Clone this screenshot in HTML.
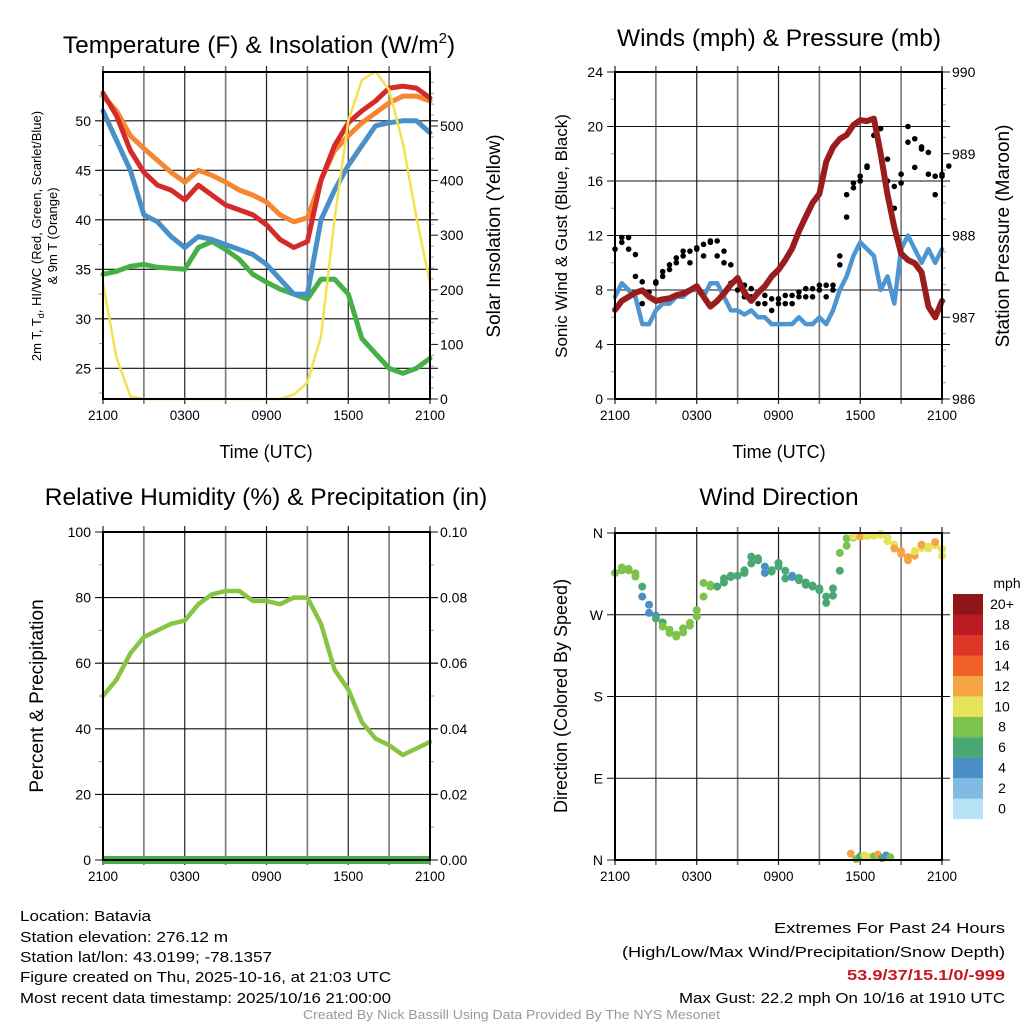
<!DOCTYPE html>
<html><head><meta charset="utf-8"><style>
html,body{margin:0;padding:0;background:#fff}
svg{display:block;font-family:"Liberation Sans",sans-serif}
</style></head><body>
<svg id="s" width="1024" height="1024" viewBox="0 0 1024 1024" xmlns="http://www.w3.org/2000/svg">
<g id="g"></g>
<g font-size="15" fill="#000">
<text x="20" y="921" textLength="131" lengthAdjust="spacingAndGlyphs">Location: Batavia</text>
<text x="20" y="942" textLength="208" lengthAdjust="spacingAndGlyphs">Station elevation: 276.12 m</text>
<text x="20" y="962" textLength="252" lengthAdjust="spacingAndGlyphs">Station lat/lon: 43.0199; -78.1357</text>
<text x="20" y="982" textLength="371" lengthAdjust="spacingAndGlyphs">Figure created on Thu, 2025-10-16, at 21:03 UTC</text>
<text x="20" y="1003" textLength="371" lengthAdjust="spacingAndGlyphs">Most recent data timestamp: 2025/10/16 21:00:00</text>
<text x="774" y="933" textLength="231" lengthAdjust="spacingAndGlyphs">Extremes For Past 24 Hours</text>
<text x="622" y="957" textLength="383" lengthAdjust="spacingAndGlyphs">(High/Low/Max Wind/Precipitation/Snow Depth)</text>
<text x="847" y="980" textLength="158" lengthAdjust="spacingAndGlyphs" fill="#c8181e" font-weight="bold">53.9/37/15.1/0/-999</text>
<text x="679" y="1003" textLength="326" lengthAdjust="spacingAndGlyphs">Max Gust: 22.2 mph On 10/16 at 1910 UTC</text>
<text x="303" y="1019" textLength="417" lengthAdjust="spacingAndGlyphs" font-size="12.5" fill="#999">Created By Nick Bassill Using Data Provided By The NYS Mesonet</text>
</g>
</svg>
<script>
// ---- data (hourly from 2100 UTC) ----
const hours = [0,1,2,3,4,5,6,7,8,9,10,11,12,13,14,15,16,17,18,19,20,21,22,23,24];
const tempRed = [52.8,50.5,47,44.8,43.5,43,42,43.5,42.5,41.5,41,40.5,39.5,38,37.2,37.8,44,47.5,49.8,51,52,53.3,53.5,53.3,52.3];
const tempOrange = [52.5,51,48.5,47.2,46,44.8,43.8,45,44.5,43.8,43,42.5,41.8,40.5,39.8,40.2,44,47,48.5,49.8,50.8,51.8,52.5,52.5,52];
const tempBlue = [51,48,45,40.5,39.8,38.3,37.2,38.3,38,37.5,37,36.5,35.5,34,32.5,32.5,40,43,45.5,47.5,49.5,49.8,50,50,48.8];
const tempGreen = [34.5,34.8,35.3,35.5,35.2,35.1,35,37.2,37.8,37,36,34.5,33.7,33,32.5,32,34,34,32.5,28,26.5,25,24.5,25,26];
const insolation = [212,75,5,0,0,0,0,0,0,0,0,0,0,0,8,30,115,330,510,584,600,566,469,333,212];
const humidity = [50,55,63,68,70,72,73,78,81,82,82,79,79,78,80,80,72,58,52,42,37,35,32,34,36];
const precip = [0,0,0,0,0,0,0,0,0,0,0,0,0,0,0,0,0,0,0,0,0,0,0,0,0];
// half-hourly
const halfHours = [0,0.5,1,1.5,2,2.5,3,3.5,4,4.5,5,5.5,6,6.5,7,7.5,8,8.5,9,9.5,10,10.5,11,11.5,12,12.5,13,13.5,14,14.5,15,15.5,16,16.5,17,17.5,18,18.5,19,19.5,20,20.5,21,21.5,22,22.5,23,23.5,24];
const windSpeed = [7.5,8.5,8,7.5,5.5,5.5,6.5,7,7,7.5,7.5,8,8,7.5,8.5,8.5,7.5,6.5,6.5,6.2,6.5,6,6,5.5,5.5,5.5,5.5,6,5.5,5.5,6,5.5,6.5,8,9,10.5,11.5,11,10.5,8,9,7,11,12,11,10,11,10,11];
const windGust = [11,11.5,11,9,7,7.5,8.5,9,9.5,10,10.5,10,11,10.5,11.5,10.5,10,8.5,8,7.5,7.5,7,7,6.5,7,7,7,7.5,7.5,7.5,8,7.5,8,10.5,15,15.5,16,17,20.5,18,16,14,16.5,20,17,18.5,16.5,15,16.5];
const pressure = [987.09,987.2,987.25,987.3,987.33,987.25,987.2,987.22,987.23,987.27,987.29,987.33,987.38,987.25,987.13,987.2,987.29,987.4,987.48,987.3,987.2,987.3,987.38,987.5,987.58,987.7,987.84,988.05,988.23,988.4,988.51,988.9,989.08,989.18,989.23,989.35,989.41,989.4,989.43,989.0,988.5,988.1,987.78,987.7,987.66,987.55,987.13,987.0,987.2];
const windDir = [316,322,319,312,290,272,266,257,250,246,255,261,275,305,301,301,310,313,313,319,334,330,316,319,327,310,313,308,303,301,297,283,299,338,354,356,356,357,357,359,351,343,337,330,340,347,343,350,335];
const dirSpeed = [8.5,8.5,9,8,5,4.5,6.5,8,8,8.5,8.5,8.5,8.5,9,8.5,7,7,6.5,6.5,7,7,6,5,7,6.5,6.5,5,7,6.5,7,6,7,7,8,9,10,12,11,10,11,10,12,12,13,11,12,10,13,10];
const wrapHours = [17.3,17.7,18,18.3,18.6,19,19.3,19.6,19.9,20.2];
const wrapDir = [7,1,4,5,3,4,6,2,5,3];
const wrapSpeed = [12,8,7,10,10,8,12,7,5,9];
const tempTicks = [25,30,35,40,45,50];
const insTicks = [0,100,200,300,400,500];
const windTicks = [0,4,8,12,16,20,24];
const presTicks = [986,987,988,989,990];
const rhTicks = [0,20,40,60,80,100];
const prTicks = ['0.00','0.02','0.04','0.06','0.08','0.10'];
const dirTicks = ['N','E','S','W','N'];
const timeLabels = ['2100','0300','0900','1500','2100'];
const speedBins = ['0','2','4','6','8','10','12','14','16','18','20+'];
const binColors = ['#b8e2f5','#80bbe3','#4a8fc6','#4aa874','#7dc24a','#e6e25a','#f6a443','#f06128','#dd3527','#bb1c22','#8e1518'];

const NS='http://www.w3.org/2000/svg';
const G=document.getElementById('g');
function el(tag,attrs,parent,txt){const e=document.createElementNS(NS,tag);for(const k in attrs)e.setAttribute(k,attrs[k]);if(txt!==undefined)e.textContent=txt;(parent||G).appendChild(e);return e;}

function panel(o){
  const g=el('g',{});
  
  
  const X=h=>o.x0+(o.x1-o.x0)*h/24;
  for(let i=0;i<=8;i++){const x=X(i*3);
    const l=el('line',{x1:x,x2:x,y1:o.y0-6,y2:o.y1+5,stroke:i%2? '#777':'#222','stroke-width':i%2?1.6:1.2},g);
    }
  timeLabels.forEach((t,i)=>{const tx=el('text',{x:X(i*6),y:o.y1+21,'font-size':13.5,'text-anchor':'middle'},g,t);
    });
  return {g,X};
}
function hgrid(g,o,Y,ticks,labels,minor){
  ticks.forEach((v,i)=>{const y=Y(v);
    el('line',{x1:o.x0-8,x2:o.x1+8,y1:y,y2:y,stroke:'#111','stroke-width':1.1},g);
    const t=el('text',{x:o.x0-12,y:y+5,'font-size':14,'text-anchor':'end'},g,labels?labels[i]:v);
    });
  if(minor){minor.forEach(v=>{const y=Y(v);el('line',{x1:o.x0-4,x2:o.x0,y1:y,y2:y,stroke:'#999','stroke-width':1},g);});}
}
function rticks(g,o,Y,ticks,labels,minor){
  ticks.forEach((v,i)=>{const y=Y(v);
    el('line',{x1:o.x1,x2:o.x1+8,y1:y,y2:y,stroke:'#111','stroke-width':1},g);
    const t=el('text',{x:o.x1+10,y:y+5,'font-size':14},g,labels?labels[i]:v);
    });
  if(minor)minor.forEach(v=>{const y=Y(v);el('line',{x1:o.x1,x2:o.x1+4,y1:y,y2:y,stroke:'#999','stroke-width':1},g);});
}
function line(g,xs,ys,X,Y,color,w,name){
  const p=el('polyline',{points:xs.map((h,i)=>X(h).toFixed(1)+','+Y(ys[i]).toFixed(1)).join(' '),fill:'none',stroke:color,'stroke-width':w,'stroke-linejoin':'round','stroke-linecap':'round'},g);
  return p;
}
function frame(g,o){el('rect',{x:o.x0,y:o.y0,width:o.x1-o.x0,height:o.y1-o.y0,fill:'none',stroke:'#000','stroke-width':2},g);}
function title(txt,x,y,name,size){const t=el('text',{x:x,y:y,'font-size':size||24.5,'text-anchor':'middle'},G,txt);return t;}
function vlabel(txt,x,y,name,size){const t=el('text',{x:0,y:0,'font-size':size||18,'text-anchor':'middle',transform:`translate(${x},${y}) rotate(-90)`},G,txt);return t;}

// ---- Panel 1: Temperature ----
{const o={x0:103,x1:430,y0:72,y1:399,name:'temperature-panel'};
 const P=panel(o);const Y=v=>399-(v-21.9)*9.9;const Yr=v=>399-v*0.546;
 hgrid(P.g,o,Y,tempTicks,null,[22.5,27.5,32.5,37.5,42.5,47.5,52.5]);
 rticks(P.g,o,Yr,insTicks,null,[20,40,60,80,120,140,160,180,220,240,260,280,320,340,360,380,420,440,460,480,520,540,560,580]);
 line(P.g,hours,tempOrange,P.X,Y,'#f58634',5,'series-9m-temp');
 line(P.g,hours,tempGreen,P.X,Y,'#45b045',5,'series-dewpoint');
 line(P.g,hours,tempBlue,P.X,Y,'#4a90c8',5,'series-hi-wc');
 line(P.g,hours,tempRed,P.X,Y,'#d42a2a',5,'series-2m-temp');
 line(P.g,hours,insolation,P.X,Yr,'#f5e050',2.5,'series-insolation');
 frame(P.g,o);
 const t=title('Temperature (F) & Insolation (W/m',259,53,'temperature-title');
 el('tspan',{dy:-10,'font-size':15},t,'2');el('tspan',{dy:10},t,')');
 const a=el('text',{x:0,y:0,'font-size':13,'text-anchor':'middle',transform:'translate(41,236) rotate(-90)'},G,'2m T, T');
 
 el('tspan',{dy:3,'font-size':9},a,'d');el('tspan',{dy:-3},a,', HI/WC (Red, Green, Scarlet/Blue)');
 const b=el('text',{x:0,y:0,'font-size':13,'text-anchor':'middle',transform:'translate(57,236) rotate(-90)'},G,'& 9m T (Orange)');
 
 vlabel('Solar Insolation (Yellow)',500,236,'insolation-y-title',19);
 title('Time (UTC)',266,458,'time-x-title-1',18);
}
// ---- Panel 2: Winds ----
{const o={x0:615,x1:942,y0:72,y1:399,name:'winds-panel'};
 const P=panel(o);const Y=v=>399-v*13.625;const Yr=v=>399-(v-986)*81.75;
 hgrid(P.g,o,Y,windTicks,null,[2,6,10,14,18,22]);
 rticks(P.g,o,Yr,presTicks,null,[986.2,986.4,986.6,986.8,987.2,987.4,987.6,987.8,988.2,988.4,988.6,988.8,989.2,989.4,989.6,989.8]);
 line(P.g,halfHours,windSpeed,P.X,Y,'#4d96d1',4.5,'series-wind-speed');
 halfHours.forEach((h,i)=>{const c=el('circle',{cx:P.X(h),cy:Y(windGust[i]),r:2.8,fill:'#000'},P.g);
   
   const c2=el('circle',{cx:P.X(h)+6.8,cy:Y((windGust[i]+windGust[Math.min(i+1,48)])/2+0.6),r:2.8,fill:'#000'},P.g);
   });
 line(P.g,halfHours,pressure,P.X,Yr,'#9b1c1c',6,'series-pressure');
 frame(P.g,o);
 title('Winds (mph) & Pressure (mb)',779,46,'winds-title');
 vlabel('Sonic Wind & Gust (Blue, Black)',567,236,'wind-y-title',17);
 vlabel('Station Pressure (Maroon)',1009,236,'pressure-y-title',19);
 title('Time (UTC)',779,458,'time-x-title-2',18);
}
// ---- Panel 3: RH ----
{const o={x0:103,x1:430,y0:532,y1:860,name:'humidity-panel'};
 const P=panel(o);const Y=v=>860-v*3.28;const Yr=v=>860-v*3280;
 hgrid(P.g,o,Y,rhTicks,null,[10,30,50,70,90]);
 rticks(P.g,o,Yr,prTicks.map(Number),prTicks,[0.01,0.03,0.05,0.07,0.09]);
 line(P.g,hours,humidity,P.X,Y,'#88c444',4.5,'series-humidity');
 el('rect',{x:o.x0,y:856,width:o.x1-o.x0,height:8,fill:'#45b045'},P.g);
 line(P.g,hours,precip,P.X,Yr,'#2f8f2f',2,'series-precipitation');
 frame(P.g,o);
 title('Relative Humidity (%) & Precipitation (in)',266,505,'humidity-title');
 vlabel('Percent & Precipitation',43,696,'humidity-y-title',19);
}
// ---- Panel 4: Wind direction ----
{const o={x0:615,x1:942,y0:533,y1:860,name:'direction-panel'};
 const P=panel(o);const Y=v=>860-v*327/360;
 hgrid(P.g,o,Y,[0,90,180,270,360],dirTicks,null);
 const bin=s=>binColors[Math.min(10,Math.max(0,Math.floor(s/2)))];
 halfHours.forEach((h,i)=>{const c=el('circle',{cx:P.X(h),cy:Y(windDir[i]),r:4,fill:bin(dirSpeed[i])},P.g);
   
   if(i<48){const c2=el('circle',{cx:P.X(h)+6.8,cy:Y((windDir[i]+windDir[i+1])/2),r:4,fill:bin((dirSpeed[i]+dirSpeed[i+1])/2)},P.g);
   }});
 wrapHours.forEach((h,i)=>{const c=el('circle',{cx:P.X(h),cy:Y(wrapDir[i]),r:4,fill:bin(wrapSpeed[i])},P.g);
   });
 frame(P.g,o);
 title('Wind Direction',779,505,'direction-title');
 vlabel('Direction (Colored By Speed)',567,696,'direction-y-title',18);
 const lg=el('g',{});
 el('text',{x:1007,y:588,'font-size':14,'text-anchor':'middle'},lg,'mph');
 for(let i=0;i<11;i++){const y=594+(10-i)*20.45;
   const r=el('rect',{x:953,y:y,width:30,height:20.6,fill:binColors[i]},lg);
   
   const tx=el('text',{x:1002,y:y+15,'font-size':14,'text-anchor':'middle'},lg,speedBins[i]);
   }
}
</script>
</body></html>
